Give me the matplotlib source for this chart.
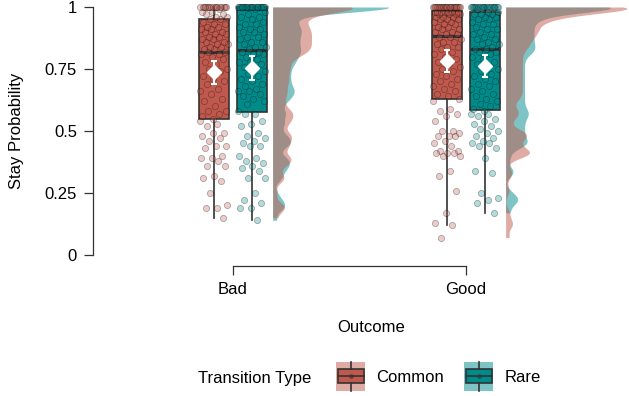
import numpy as np
import matplotlib
matplotlib.use("Agg")
from matplotlib import pyplot as plt
from matplotlib.patches import Rectangle

plt.rcParams['font.family'] = ['Liberation Sans', 'DejaVu Sans']

outcomes = ['Bad', 'Good']
transitions = ['Common', 'Rare']
colours = {'Common': '#C0594D', 'Rare': '#008B8B'}

# stay probability per participant
bad_common = [0.54, 0.53, 0.52, 0.49, 0.49, 0.48, 0.47, 0.46, 0.44, 0.44, 0.43, 0.40, 0.39,
              0.39, 0.38, 0.36, 0.36, 0.32, 0.31, 0.30, 0.25, 0.20, 0.19, 0.19, 0.15,
              0.55, 0.56, 0.57, 0.58, 0.58, 0.60, 0.62, 0.63, 0.65, 0.66, 0.67, 0.69, 0.70,
              0.71, 0.72, 0.74, 0.75, 0.75, 0.77, 0.78, 0.79, 0.80, 0.81, 0.81, 0.82,
              0.82, 0.83, 0.83, 0.84, 0.84, 0.85, 0.85, 0.86, 0.86, 0.87, 0.87, 0.88, 0.88,
              0.89, 0.89, 0.90, 0.90, 0.91, 0.91, 0.92, 0.92, 0.93, 0.93, 0.94, 0.95,
              0.95, 0.96, 0.96, 0.97, 0.97, 0.98, 0.98, 0.99] + [1.0] * 17

bad_rare = [0.58, 0.57, 0.57, 0.54, 0.53, 0.52, 0.49, 0.48, 0.47, 0.46, 0.45, 0.44, 0.44,
            0.40, 0.39, 0.38, 0.37, 0.36, 0.35, 0.34, 0.31, 0.31, 0.25, 0.22, 0.21, 0.19,
            0.19, 0.14,
            0.61, 0.62, 0.63, 0.64, 0.65, 0.66, 0.66, 0.67, 0.68, 0.69, 0.70, 0.71, 0.72,
            0.73, 0.74, 0.75, 0.76, 0.77, 0.78, 0.78, 0.79, 0.80, 0.81, 0.81, 0.82, 0.82,
            0.83, 0.84, 0.84, 0.85, 0.86, 0.86, 0.87, 0.88, 0.88, 0.89, 0.90, 0.90, 0.91,
            0.91, 0.92, 0.93, 0.93, 0.94, 0.95, 0.96, 0.96, 0.97, 0.98, 0.99] + [1.0] * 30

good_common = [0.62, 0.59, 0.58, 0.57, 0.56, 0.54, 0.50, 0.50, 0.49, 0.48, 0.48, 0.48,
               0.46, 0.45, 0.44, 0.42, 0.42, 0.41, 0.41, 0.41, 0.40, 0.40, 0.34, 0.32,
               0.26, 0.17, 0.13, 0.12, 0.07,
               0.63, 0.64, 0.65, 0.66, 0.67, 0.68, 0.69, 0.70, 0.71, 0.72, 0.73, 0.74,
               0.75, 0.76, 0.77, 0.78, 0.79, 0.80, 0.81, 0.82, 0.83, 0.84, 0.84, 0.85,
               0.86, 0.86, 0.87, 0.88, 0.88,
               0.89, 0.89, 0.90, 0.90, 0.91, 0.91, 0.92, 0.92, 0.93, 0.93, 0.94, 0.94,
               0.95, 0.95, 0.95, 0.96, 0.96, 0.96, 0.97, 0.97, 0.97, 0.97, 0.98, 0.98,
               0.98, 0.98, 0.98, 0.98, 0.98] + [1.0] * 29

good_rare = [0.57, 0.57, 0.56, 0.55, 0.54, 0.53, 0.52, 0.51, 0.50, 0.49, 0.48, 0.47, 0.46,
             0.45, 0.45, 0.44, 0.43, 0.39, 0.34, 0.33, 0.25, 0.23, 0.22, 0.21, 0.17,
             0.58, 0.59, 0.60, 0.61, 0.62, 0.63, 0.64, 0.65, 0.66, 0.67, 0.68, 0.69, 0.70,
             0.71, 0.72, 0.73, 0.74, 0.75, 0.76, 0.77, 0.78, 0.79, 0.80, 0.81, 0.82,
             0.82, 0.83, 0.83, 0.84, 0.85, 0.85, 0.86, 0.87, 0.87, 0.88, 0.89, 0.89, 0.90,
             0.91, 0.91, 0.92, 0.93, 0.93, 0.94, 0.95, 0.95, 0.96, 0.96, 0.97, 0.97,
             0.97, 0.98, 0.98, 0.99] + [1.0] * 24

stay = {('Bad', 'Common'): bad_common, ('Bad', 'Rare'): bad_rare,
        ('Good', 'Common'): good_common, ('Good', 'Rare'): good_rare}


def density(values, bw=0.02, n=512):
    """gaussian kde, trimmed to the range of the data"""
    v = np.asarray(values)
    grid = np.linspace(v.min(), v.max(), n)
    d = np.exp(-0.5 * ((grid[:, None] - v[None, :]) / bw) ** 2).sum(1)
    return grid, d / (len(v) * bw * np.sqrt(2 * np.pi))


fig = plt.figure(figsize=(6.29, 3.96), dpi=100)
ax = fig.add_axes([93 / 629, 130 / 396, 536 / 629, 266 / 396])

offsets = {'Common': -0.082, 'Rare': 0.082}
dens = {k: density(v) for k, v in stay.items()}
dmax = max(d.max() for g, d in dens.values())

for i, outcome in enumerate(outcomes):
    pos = i + 1
    # half violins, rare underneath
    for tr in ['Rare', 'Common']:
        grid, d = dens[(outcome, tr)]
        ax.fill_betweenx(grid, pos + 0.17, pos + 0.17 + d / dmax * 0.52,
                         color=colours[tr], alpha=0.5, lw=0, zorder=1)
    for tr in transitions:
        vals = np.asarray(stay[(outcome, tr)])
        x = pos + offsets[tr]
        ax.boxplot(vals, positions=[x], widths=0.128, patch_artist=True,
                   showfliers=False, showcaps=False, manage_ticks=False,
                   boxprops=dict(facecolor=colours[tr], edgecolor='#333333', lw=1.2),
                   medianprops=dict(color='#333333', lw=2.2),
                   whiskerprops=dict(color='#333333', lw=1.2), zorder=2)
        jit = ((np.arange(len(vals)) * 0.618034) % 1 - 0.5) * 0.12
        ax.scatter(x + jit, vals, s=20, color=colours[tr], alpha=0.3,
                   edgecolors='black', linewidths=0.6, zorder=3)
        m = vals.mean()
        ci = 1.96 * vals.std(ddof=1) / np.sqrt(len(vals))
        ax.errorbar(x, m, yerr=ci, fmt='D', color='white', ms=7, capsize=2.5,
                    elinewidth=1.5, capthick=1.5, zorder=5)

ax.set_xlim(93 / 233, 629 / 233)
ax.set_ylim(-11 / 248, 255 / 248)
for s in ['top', 'right']:
    ax.spines[s].set_visible(False)
ax.spines['left'].set_bounds(0, 1)
ax.spines['bottom'].set_bounds(1, 2)
for s in ['left', 'bottom']:
    ax.spines[s].set_color('#333333')
    ax.spines[s].set_linewidth(0.9)
ax.set_yticks([0, 0.25, 0.5, 0.75, 1])
ax.set_yticklabels(['0', '0.25', '0.5', '0.75', '1'])
ax.set_xticks([1, 2])
ax.set_xticklabels(outcomes)
ax.tick_params(length=6.5, width=0.9, color='#333333', labelsize=12, pad=5)
ax.set_facecolor('none')

fig.text(17 / 629, 1 - 131 / 396, 'Stay Probability', rotation=90,
         ha='center', va='center', fontsize=12)
fig.text(371 / 629, 1 - 327 / 396, 'Outcome', ha='center', va='center', fontsize=12)

# legend drawn by hand in pixel coordinates
lg = fig.add_axes([0, 0, 1, 1])
lg.set_xlim(0, 629)
lg.set_ylim(396, 0)
lg.axis('off')
lg.text(198, 378, 'Transition Type', ha='left', va='center', fontsize=12)
for tr, kx, tx in [('Common', 336, 376), ('Rare', 464, 505)]:
    lg.add_patch(Rectangle((kx, 362), 29, 29, fc=colours[tr], alpha=0.5, lw=0))
    lg.add_patch(Rectangle((kx + 1.5, 369), 26, 14, fc=colours[tr], ec='#333333', lw=1.2))
    lg.plot([kx + 1.5, kx + 27.5], [376, 376], color='#333333', lw=1.2)
    lg.plot([kx + 14.5, kx + 14.5], [362, 369], color='#333333', lw=1.2)
    lg.plot([kx + 14.5, kx + 14.5], [383, 391], color='#333333', lw=1.2)
    lg.plot(kx + 14.5, 376, 'o', ms=2.5, color='#333333', alpha=0.5)
    lg.text(tx, 378, tr, ha='left', va='center', fontsize=12)

fig.savefig('out.png', dpi=100)
